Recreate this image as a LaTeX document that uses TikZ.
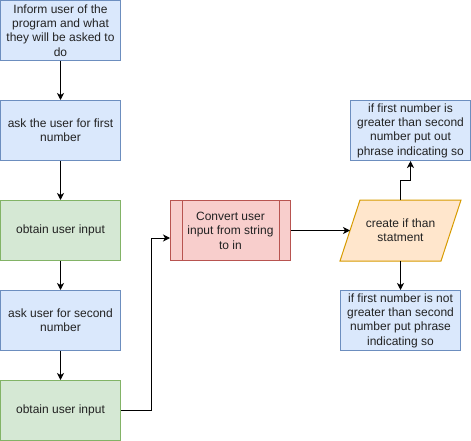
\documentclass[tikz,border=0pt]{standalone}
\usepackage{fontspec}
\setmainfont{Liberation Sans}
\usetikzlibrary{arrows.meta, backgrounds}
\definecolor{bleufond}{HTML}{DAE8FC}
\definecolor{bleutrait}{HTML}{6C8EBF}
\definecolor{vertfond}{HTML}{D5E8D4}
\definecolor{verttrait}{HTML}{82B366}
\definecolor{rougefond}{HTML}{F8CECC}
\definecolor{rougetrait}{HTML}{B85450}
\definecolor{orfond}{HTML}{FFE6CC}
\definecolor{ortrait}{HTML}{D79B00}
\definecolor{texte}{HTML}{222222}

\begin{document}
\begin{tikzpicture}[x=1pt,y=-1pt,
  boite/.style={rectangle,draw,line width=1pt,minimum width=120pt,minimum height=60pt,inner sep=0pt,align=center,text=texte,font=\fontsize{12pt}{14.4pt}\selectfont},
  bleu/.style={boite,fill=bleufond,draw=bleutrait},
  vert/.style={boite,fill=vertfond,draw=verttrait},
  fleche/.style={-{Stealth[length=7pt,width=7pt,inset=2pt]},line width=1pt}]
% Organigramme du programme
\useasboundingbox (0,0) rectangle (471,441);
\node[bleu] (I) at (60.5,30.5) {Inform user of the\\program and what\\they will be asked to\\do};
\node[bleu] (Q1) at (60.5,130.5) {ask the user for first\\number};
\node[vert] (E1) at (60.5,230.5) {obtain user input};
\node[bleu] (Q2) at (60.5,320.5) {ask user for second\\number};
\node[vert] (E2) at (60.5,410.5) {obtain user input};
\node[boite,fill=rougefond,draw=rougetrait] (C) at (230.5,230.5) {Convert user\\input from string\\to in};
\draw[rougetrait,line width=1pt] ([xshift=12pt]C.north west) -- ([xshift=12pt]C.south west);
\draw[rougetrait,line width=1pt] ([xshift=-12pt]C.north east) -- ([xshift=-12pt]C.south east);
\node[boite,draw=none] (S) at (400.5,230.5) {create if than\\statment};
\begin{scope}[on background layer]
\draw[ortrait,fill=orfond,line width=1pt] ([xshift=20pt]S.north west) -- (S.north east) -- ([xshift=-20pt]S.south east) -- (S.south west) -- cycle;
\end{scope}
\node[bleu] (O1) at (410.5,130.5) {if first number is\\greater than second\\number put out\\phrase indicating so};
\node[bleu] (O2) at (400.5,320.5) {if first number is not\\greater than second\\number put phrase\\indicating so};
\draw[fleche] (I) -- (Q1);
\draw[fleche] (Q1) -- (E1);
\draw[fleche] (E1) -- (Q2);
\draw[fleche] (Q2) -- (E2);
\draw[fleche] (E2.east) -- ++(30,0) |- ([yshift=-7.5pt]C.west);
\draw[fleche] (C.east) -- ([xshift=10pt]S.west);
\draw[fleche] (S.north) -- ++(0,-20) -| (O1.south);
\draw[fleche] (S.south) -- (O2.north);
\end{tikzpicture}
\end{document}
